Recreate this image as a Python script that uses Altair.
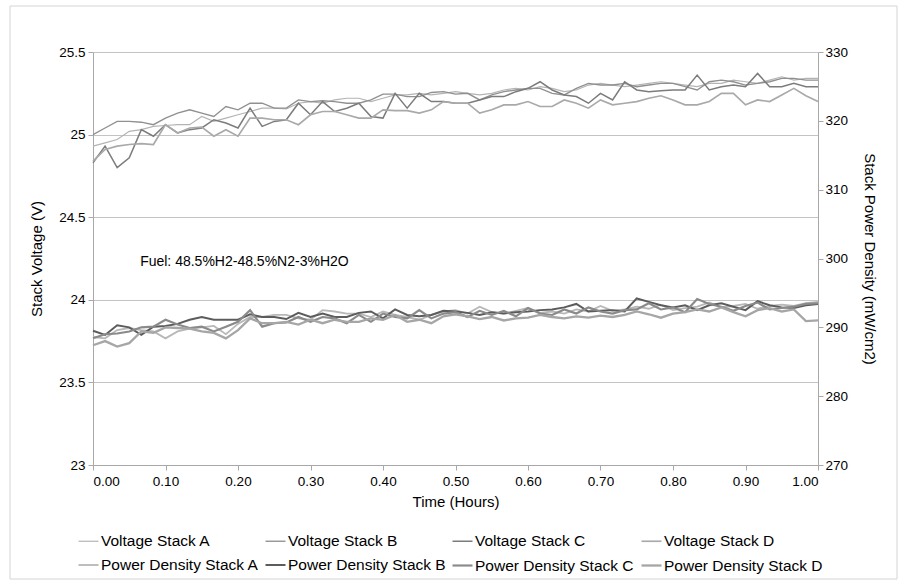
import altair as alt
import pandas as pd

# Sample times: one reading per minute over the first hour
minutes = list(range(0, 61))

voltage_a = [24.93, 24.95, 24.97, 25.02, 25.03, 25.05, 25.055, 25.06, 25.06, 25.11,
             25.08, 25.10, 25.12, 25.14, 25.16, 25.16, 25.155, 25.19, 25.20, 25.19,
             25.21, 25.22, 25.22, 25.20, 25.22, 25.24, 25.24, 25.25, 25.24, 25.25,
             25.26, 25.25, 25.24, 25.25, 25.27, 25.28, 25.27, 25.29, 25.28, 25.26,
             25.27, 25.30, 25.31, 25.30, 25.29, 25.30, 25.31, 25.32, 25.31, 25.30,
             25.29, 25.31, 25.31, 25.33, 25.32, 25.31, 25.33, 25.35, 25.33, 25.34, 25.34]
voltage_b = [25.00, 25.04, 25.08, 25.08, 25.075, 25.06, 25.10, 25.13, 25.15, 25.13,
             25.11, 25.17, 25.15, 25.19, 25.19, 25.16, 25.16, 25.21, 25.20, 25.205,
             25.20, 25.19, 25.19, 25.21, 25.245, 25.245, 25.23, 25.23, 25.255, 25.26,
             25.245, 25.25, 25.21, 25.24, 25.26, 25.27, 25.28, 25.28, 25.25, 25.24,
             25.28, 25.31, 25.30, 25.30, 25.31, 25.29, 25.30, 25.31, 25.31, 25.29,
             25.27, 25.32, 25.33, 25.32, 25.30, 25.31, 25.32, 25.34, 25.34, 25.33, 25.33]
voltage_c = [24.83, 24.93, 24.80, 24.86, 25.03, 24.99, 25.06, 25.01, 25.03, 25.04,
             25.09, 25.07, 25.04, 25.16, 25.05, 25.08, 25.09, 25.19, 25.12, 25.20,
             25.14, 25.16, 25.19, 25.11, 25.10, 25.25, 25.16, 25.25, 25.20, 25.20,
             25.19, 25.19, 25.21, 25.23, 25.23, 25.26, 25.28, 25.32, 25.27, 25.24,
             25.23, 25.19, 25.25, 25.21, 25.32, 25.27, 25.26, 25.265, 25.27, 25.27,
             25.36, 25.27, 25.29, 25.30, 25.29, 25.37, 25.29, 25.29, 25.31, 25.29, 25.29]
voltage_d = [24.84, 24.91, 24.93, 24.94, 24.945, 24.94, 25.06, 25.01, 25.04, 25.045,
             24.99, 25.03, 24.99, 25.10, 25.10, 25.09, 25.09, 25.06, 25.12, 25.14,
             25.14, 25.12, 25.10, 25.10, 25.15, 25.145, 25.145, 25.13, 25.15, 25.20,
             25.19, 25.19, 25.13, 25.15, 25.18, 25.18, 25.20, 25.17, 25.17, 25.21,
             25.19, 25.16, 25.21, 25.18, 25.19, 25.20, 25.22, 25.235, 25.21, 25.18,
             25.18, 25.20, 25.25, 25.25, 25.18, 25.21, 25.20, 25.24, 25.28, 25.235, 25.20]

power_a = [288.6, 288.4, 289.6, 289.9, 289.6, 289.4, 288.4, 289.4, 289.8, 290.0,
           290.2, 289.0, 290.5, 291.5, 291.5, 291.8, 291.8, 291.3, 291.1, 292.5,
           292.3, 292.0, 292.0, 291.5, 292.3, 291.8, 291.5, 291.1, 291.8, 292.3,
           292.5, 292.0, 293.0, 292.2, 292.0, 292.4, 292.8, 292.1, 292.3, 292.0,
           292.6, 292.3, 293.1, 292.4, 292.6, 293.0, 292.7, 293.3, 292.5, 292.8,
           293.0, 293.6, 292.9, 293.1, 293.4, 292.7, 293.1, 293.3, 293.1, 293.5, 293.7]
power_b = [289.5, 288.9, 290.3, 290.0, 288.9, 290.1, 290.2, 290.5, 291.1, 291.5,
           291.1, 291.1, 291.1, 291.9, 291.5, 291.5, 291.2, 292.1, 291.5, 292.0,
           291.5, 291.5, 292.1, 292.3, 291.3, 292.6, 291.8, 291.6, 291.8, 292.4,
           292.3, 292.1, 291.8, 292.2, 292.0, 292.2, 292.3, 292.5, 292.6, 292.9,
           293.4, 292.3, 292.4, 292.5, 292.3, 294.2, 293.7, 293.2, 292.9, 293.2,
           292.5, 293.2, 293.5, 293.0, 292.5, 293.8, 293.2, 292.9, 292.8, 293.2, 293.4]
power_c = [288.4, 289.0, 289.1, 289.4, 290.0, 290.1, 291.1, 290.4, 289.9, 290.1,
           289.4, 290.1, 290.8, 292.5, 290.1, 290.6, 290.7, 291.5, 290.8, 291.5,
           291.3, 290.6, 291.8, 290.8, 292.0, 291.5, 291.3, 292.5, 291.3, 292.0,
           292.2, 291.5, 292.4, 291.8, 292.4, 291.6, 292.8, 292.0, 291.8, 292.6,
           292.0, 292.9, 292.3, 292.0, 292.5, 292.6, 293.5, 292.6, 292.9, 292.2,
           294.1, 293.4, 293.0, 292.4, 293.1, 293.6, 292.6, 292.8, 293.0, 293.4, 293.5]
power_d = [287.4, 288.0, 287.2, 287.7, 289.4, 289.2, 290.0, 289.9, 289.8, 289.4,
           289.2, 288.4, 289.6, 291.3, 290.6, 290.6, 290.8, 290.4, 291.1, 290.6,
           291.1, 290.8, 290.8, 291.3, 291.1, 291.8, 290.8, 291.1, 290.6, 291.6,
           291.9, 291.6, 291.2, 291.5, 291.0, 291.3, 291.4, 291.8, 291.5, 291.3,
           291.6, 291.4, 291.7, 291.5, 291.8, 292.3, 291.9, 291.4, 292.0, 292.2,
           292.6, 292.3, 292.9, 292.2, 291.6, 292.5, 292.8, 292.3, 292.6, 290.9, 291.0]

series_names = ["Voltage Stack A", "Voltage Stack B", "Voltage Stack C", "Voltage Stack D",
                "Power Density Stack A", "Power Density Stack B", "Power Density Stack C",
                "Power Density Stack D"]
series_colors = ["#b4b4b4", "#909090", "#7c7c7c", "#a9a9a9",
                 "#b8b8b8", "#5c5c5c", "#8a8a8a", "#a6a6a6"]
series_widths = [1.2, 2.3, 2.3, 2.6, 1.2, 2.3, 2.3, 2.6]

fuel_label = "Fuel: 48.5%H2-48.5%N2-3%H2O"

FONT = "Liberation Sans"


def long_table(names, columns, field):
    rows = []
    for name, values in zip(names, columns):
        for m, v in zip(minutes, values):
            rows.append({"hours": m / 60, "series": name, field: v})
    return pd.DataFrame(rows)


volt_df = long_table(series_names[:4], [voltage_a, voltage_b, voltage_c, voltage_d], "volts")
power_df = long_table(series_names[4:], [power_a, power_b, power_c, power_d], "power")

x_enc = alt.X(
    "hours:Q",
    scale=alt.Scale(domain=[0, 1], nice=False, zero=False),
    axis=alt.Axis(
        title="Time (Hours)",
        values=[i / 10 for i in range(11)],
        format=".2f",
        grid=False,
        tickSize=5,
        labelPadding=4,
        titlePadding=7,
    ),
)

color_enc = alt.Color(
    "series:N",
    scale=alt.Scale(domain=series_names, range=series_colors),
    legend=alt.Legend(
        title=None,
        orient="none",
        direction="horizontal",
        legendX=-16,
        legendY=478,
        columns=4,
        symbolType="stroke",
        symbolSize=400,
        labelFontSize=15.5,
        labelFont=FONT,
        labelColor="#000000",
        labelLimit=0,
        columnPadding=2,
        rowPadding=4,
        labelOffset=1,
    ),
)
width_enc = alt.StrokeWidth(
    "series:N",
    scale=alt.Scale(domain=series_names, range=series_widths),
    legend=alt.Legend(title=None),
)

volt_lines = alt.Chart(volt_df).mark_line(interpolate="linear").encode(
    x=x_enc,
    y=alt.Y(
        "volts:Q",
        scale=alt.Scale(domain=[23, 25.5], nice=False, zero=False),
        axis=alt.Axis(
            title="Stack Voltage (V)",
            orient="left",
            values=[23, 23.5, 24, 24.5, 25, 25.5],
            format=".1~f",
            grid=True,
            tickSize=5,
            labelPadding=3,
            titlePadding=14,
        ),
    ),
    color=color_enc,
    strokeWidth=width_enc,
    order=alt.Order("hours:Q"),
)

fuel_text = alt.Chart(pd.DataFrame({"label": [fuel_label]})).mark_text(
    align="left", baseline="middle", font=FONT, fontSize=14, color="#000000"
).encode(x=alt.datum(0.065), y=alt.datum(24.23), text="label:N")

power_lines = alt.Chart(power_df).mark_line(interpolate="linear").encode(
    x=x_enc,
    y=alt.Y(
        "power:Q",
        scale=alt.Scale(domain=[270, 330], nice=False, zero=False),
        axis=alt.Axis(
            title="Stack Power Density (mW/cm2)",
            orient="right",
            values=[270, 280, 290, 300, 310, 320, 330],
            format="d",
            grid=False,
            tickSize=5,
            titlePadding=14,
        ),
    ),
    color=color_enc,
    strokeWidth=width_enc,
    order=alt.Order("hours:Q"),
)

# light frame around the whole figure
frame = alt.Chart(pd.DataFrame({"k": [0]})).mark_rect(
    fill=None, stroke="#d4d4d4", strokeWidth=1
).encode(
    x=alt.value(-83), x2=alt.value(804), y=alt.value(-46), y2=alt.value(527)
)

chart = (
    alt.layer(alt.layer(volt_lines, fuel_text), power_lines, frame)
    .resolve_scale(y="independent")
    .properties(
        width=725,
        height=413,
        autosize=alt.AutoSizeParams(type="none"),
        padding={"left": 93, "top": 52, "right": 84, "bottom": 119},
        background="#ffffff",
    )
    .configure_view(stroke=None)
    .configure_axis(
        labelFont=FONT,
        labelFontSize=13.5,
        labelColor="#000000",
        titleFont=FONT,
        titleFontSize=15,
        titleFontWeight="normal",
        titleColor="#000000",
        domainColor="#a8a8a8",
        tickColor="#a8a8a8",
        gridColor="#c4c4c4",
        gridWidth=1,
    )
)

chart.save("out.html", embed_options={"renderer": "svg", "actions": False})
